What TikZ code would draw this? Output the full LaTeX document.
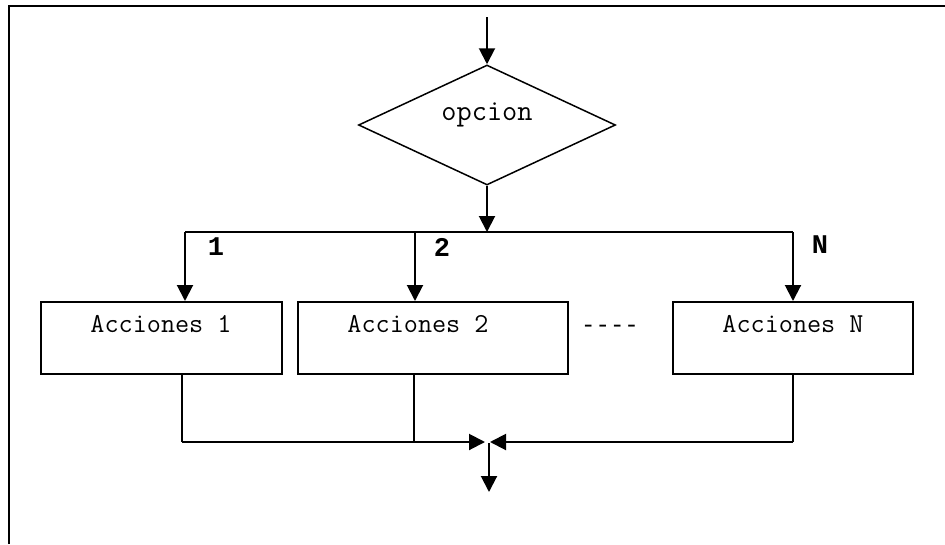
\documentclass[tikz,border=0pt]{standalone}
\usepackage{fontspec}
\newfontfamily\labfont{Liberation Mono}
\usetikzlibrary{shapes.geometric,arrows.meta}
\begin{document}
\begin{tikzpicture}[x=1pt,y=-1pt,
 arr/.style={line width=2pt,-{Triangle[length=16pt,width=16pt]}},
 ln/.style={line width=1.5pt},
 box/.style={draw,line width=2pt,rectangle,minimum height=72pt,inner sep=0pt},
 txt/.style={font=\ttfamily\fontsize{27.4}{27.4}\selectfont,inner sep=0pt},
 lab/.style={font=\labfont\bfseries\fontsize{27}{27}\selectfont,inner sep=0pt}]
\useasboundingbox (0,0) rectangle (945,544);
\draw[line width=2pt] (8.5,544) -- (8.5,5.5) -- (945,5.5);
% decision
\coordinate (start) at (487,17);
\node[draw,diamond,line width=1.5pt,inner sep=0pt,minimum width=257pt,minimum height=120pt] (dec) at (487,125) {};
\node[txt,font=\ttfamily\fontsize{29.5}{29.5}\selectfont] (dectext) at (487,115) {opcion};
\draw[arr] (start) -- (dec.north);
\coordinate (split) at (487,232);
\draw[arr] (dec.south) -- (split);
% boxes
\node[box,minimum width=241pt] (b1) at (161.5,338) {};
\node[box,minimum width=270pt] (b2) at (433,338) {};
\node[box,minimum width=240pt] (bN) at (793,338) {};
\node[txt] (t1) at (161,324) {Acciones 1};
\node[txt] (t2) at (418,324) {Acciones 2};
\node[txt] (tN) at (793,324) {Acciones N};
\node[font=\labfont\fontsize{24}{24}\selectfont,inner sep=0pt] (dots) at (610,329) {----};
% branches
\coordinate (s1) at (185,232);
\coordinate (s2) at (415,232);
\coordinate (sN) at (793,232);
\draw[ln] (s1) -- (sN);
\draw[arr] (s1) -- (s1 |- b1.north);
\draw[arr] (s2) -- (s2 |- b2.north);
\draw[arr] (sN) -- (sN |- bN.north);
\node[lab] (l1) at (216,247) {1};
\node[lab] (l2) at (442,247) {2};
\node[lab] (lN) at (820,245) {N};
% merge
\coordinate (m1) at (182,442);
\coordinate (m2) at (414,442);
\coordinate (mN) at (793,442);
\coordinate (jl) at (485,442);
\coordinate (jr) at (490,442);
\coordinate (jtop) at (489,443);
\coordinate (endp) at (489,492);
\draw[ln] (m1 |- b1.south) -- (m1);
\draw[ln] (m2 |- b2.south) -- (m2);
\draw[ln] (mN |- bN.south) -- (mN);
\draw[arr] (m1) -- (jl);
\draw[arr] (mN) -- (jr);
\draw[arr] (jtop) -- (endp);
\end{tikzpicture}
\end{document}
